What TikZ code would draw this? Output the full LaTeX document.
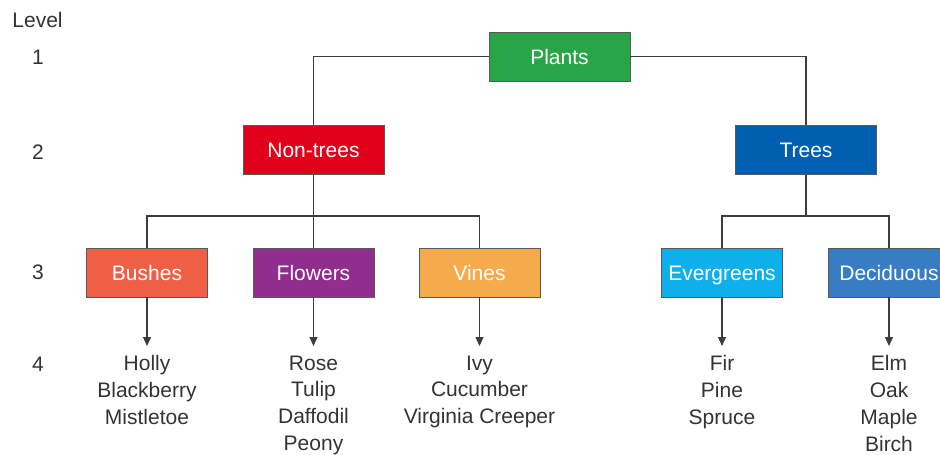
\documentclass[tikz,border=0pt]{standalone}
\usepackage{fontspec}
\setmainfont{Liberation Sans}
\usetikzlibrary{arrows.meta}

\definecolor{cPlants}{HTML}{28A546}
\definecolor{cNonTrees}{HTML}{E10019}
\definecolor{cTrees}{HTML}{005FAF}
\definecolor{cBushes}{HTML}{EE5F46}
\definecolor{cFlowers}{HTML}{912D8C}
\definecolor{cVines}{HTML}{F5AA4B}
\definecolor{cEver}{HTML}{0FAFEB}
\definecolor{cDecid}{HTML}{377DC3}
\definecolor{ink}{HTML}{333333}
\definecolor{wire}{HTML}{3C3C3C}

\tikzset{
  catbox/.style={draw=black!65, line width=0.9pt, fill=#1, text=white,
    minimum height=49pt, text height=15pt, text depth=0pt, inner sep=0pt,
    font=\fontsize{21}{25}\selectfont},
  widebox/.style={catbox=#1, minimum width=141pt},
  narrowbox/.style={catbox=#1, minimum width=121pt},
  leaf/.style={anchor=north, align=center, inner sep=0pt, text=ink,
    font=\fontsize{21}{26.8}\selectfont},
  lvl/.style={text=ink, inner sep=0pt, font=\fontsize{21}{25}\selectfont},
  link/.style={draw=wire, line width=1.2pt},
  arr/.style={link, -{Triangle[length=9pt,width=8pt]}, shorten >=9.5pt},
}

\begin{document}
\begin{tikzpicture}[x=1pt,y=-1pt]
  \useasboundingbox (0,0) rectangle (940,455);
  \clip (0,0) rectangle (940,455);

  % level column
  \node[lvl] (lvlhead) at (37.5,20) {Level};
  \node[lvl] (lvl1) at (38,57) {1};
  \node[lvl] (lvl2) at (38,152) {2};
  \node[lvl] (lvl3) at (38,272) {3};
  \node[lvl] (lvl4) at (38,364) {4};

  % level 1 and 2
  \node[widebox=cPlants]   (plants)   at (559.5,56.5) {Plants};
  \node[widebox=cNonTrees] (nontrees) at (313.5,150)  {Non-trees};
  \node[widebox=cTrees]    (trees)    at (806,150)    {Trees};

  % level 3 (the last box runs past the right edge)
  \node[narrowbox=cBushes]  (bushes)     at (147,272.5)   {Bushes};
  \node[narrowbox=cFlowers] (flowers)    at (313.5,272.5) {Flowers};
  \node[narrowbox=cVines]   (vines)      at (479.5,272.5) {Vines};
  \node[narrowbox=cEver]    (evergreens) at (722,272.5)   {Evergreens};
  \node[narrowbox=cDecid, minimum width=122pt] (deciduous) at (889,272.5) {Deciduous};

  % level 4
  \node[leaf] (bushlf)   at (147,355.5)   {Holly\\Blackberry\\Mistletoe};
  \node[leaf] (flowerlf) at (313.5,355.5) {Rose\\Tulip\\Daffodil\\Peony};
  \node[leaf] (vinelf)   at (479.5,355.5) {Ivy\\Cucumber\\Virginia Creeper};
  \node[leaf] (everlf)   at (722,355.5)   {Fir\\Pine\\Spruce};
  \node[leaf] (decidlf)  at (889,355.5)   {Elm\\Oak\\Maple\\Birch};

  % branch points
  \coordinate (nbus) at (313.5,216);
  \coordinate (tbus) at (806,216);

  % tree connectors
  \draw[link] (plants.west) -| (nontrees.north);
  \draw[link] (plants.east) -| (trees.north);
  \draw[link] (nontrees.south) -- (flowers.north);
  \draw[link] (nontrees.south) -- (nbus) -| (bushes.north);
  \draw[link] (nontrees.south) -- (nbus) -| (vines.north);
  \draw[link] (trees.south) -- (tbus) -| (evergreens.north);
  \draw[link] (trees.south) -- (tbus) -| (deciduous.north);

  % arrows to the examples
  \draw[arr] (bushes.south) -- (bushlf.north);
  \draw[arr] (flowers.south) -- (flowerlf.north);
  \draw[arr] (vines.south) -- (vinelf.north);
  \draw[arr] (evergreens.south) -- (everlf.north);
  \draw[arr] (deciduous.south) -- (decidlf.north);
\end{tikzpicture}
\end{document}
